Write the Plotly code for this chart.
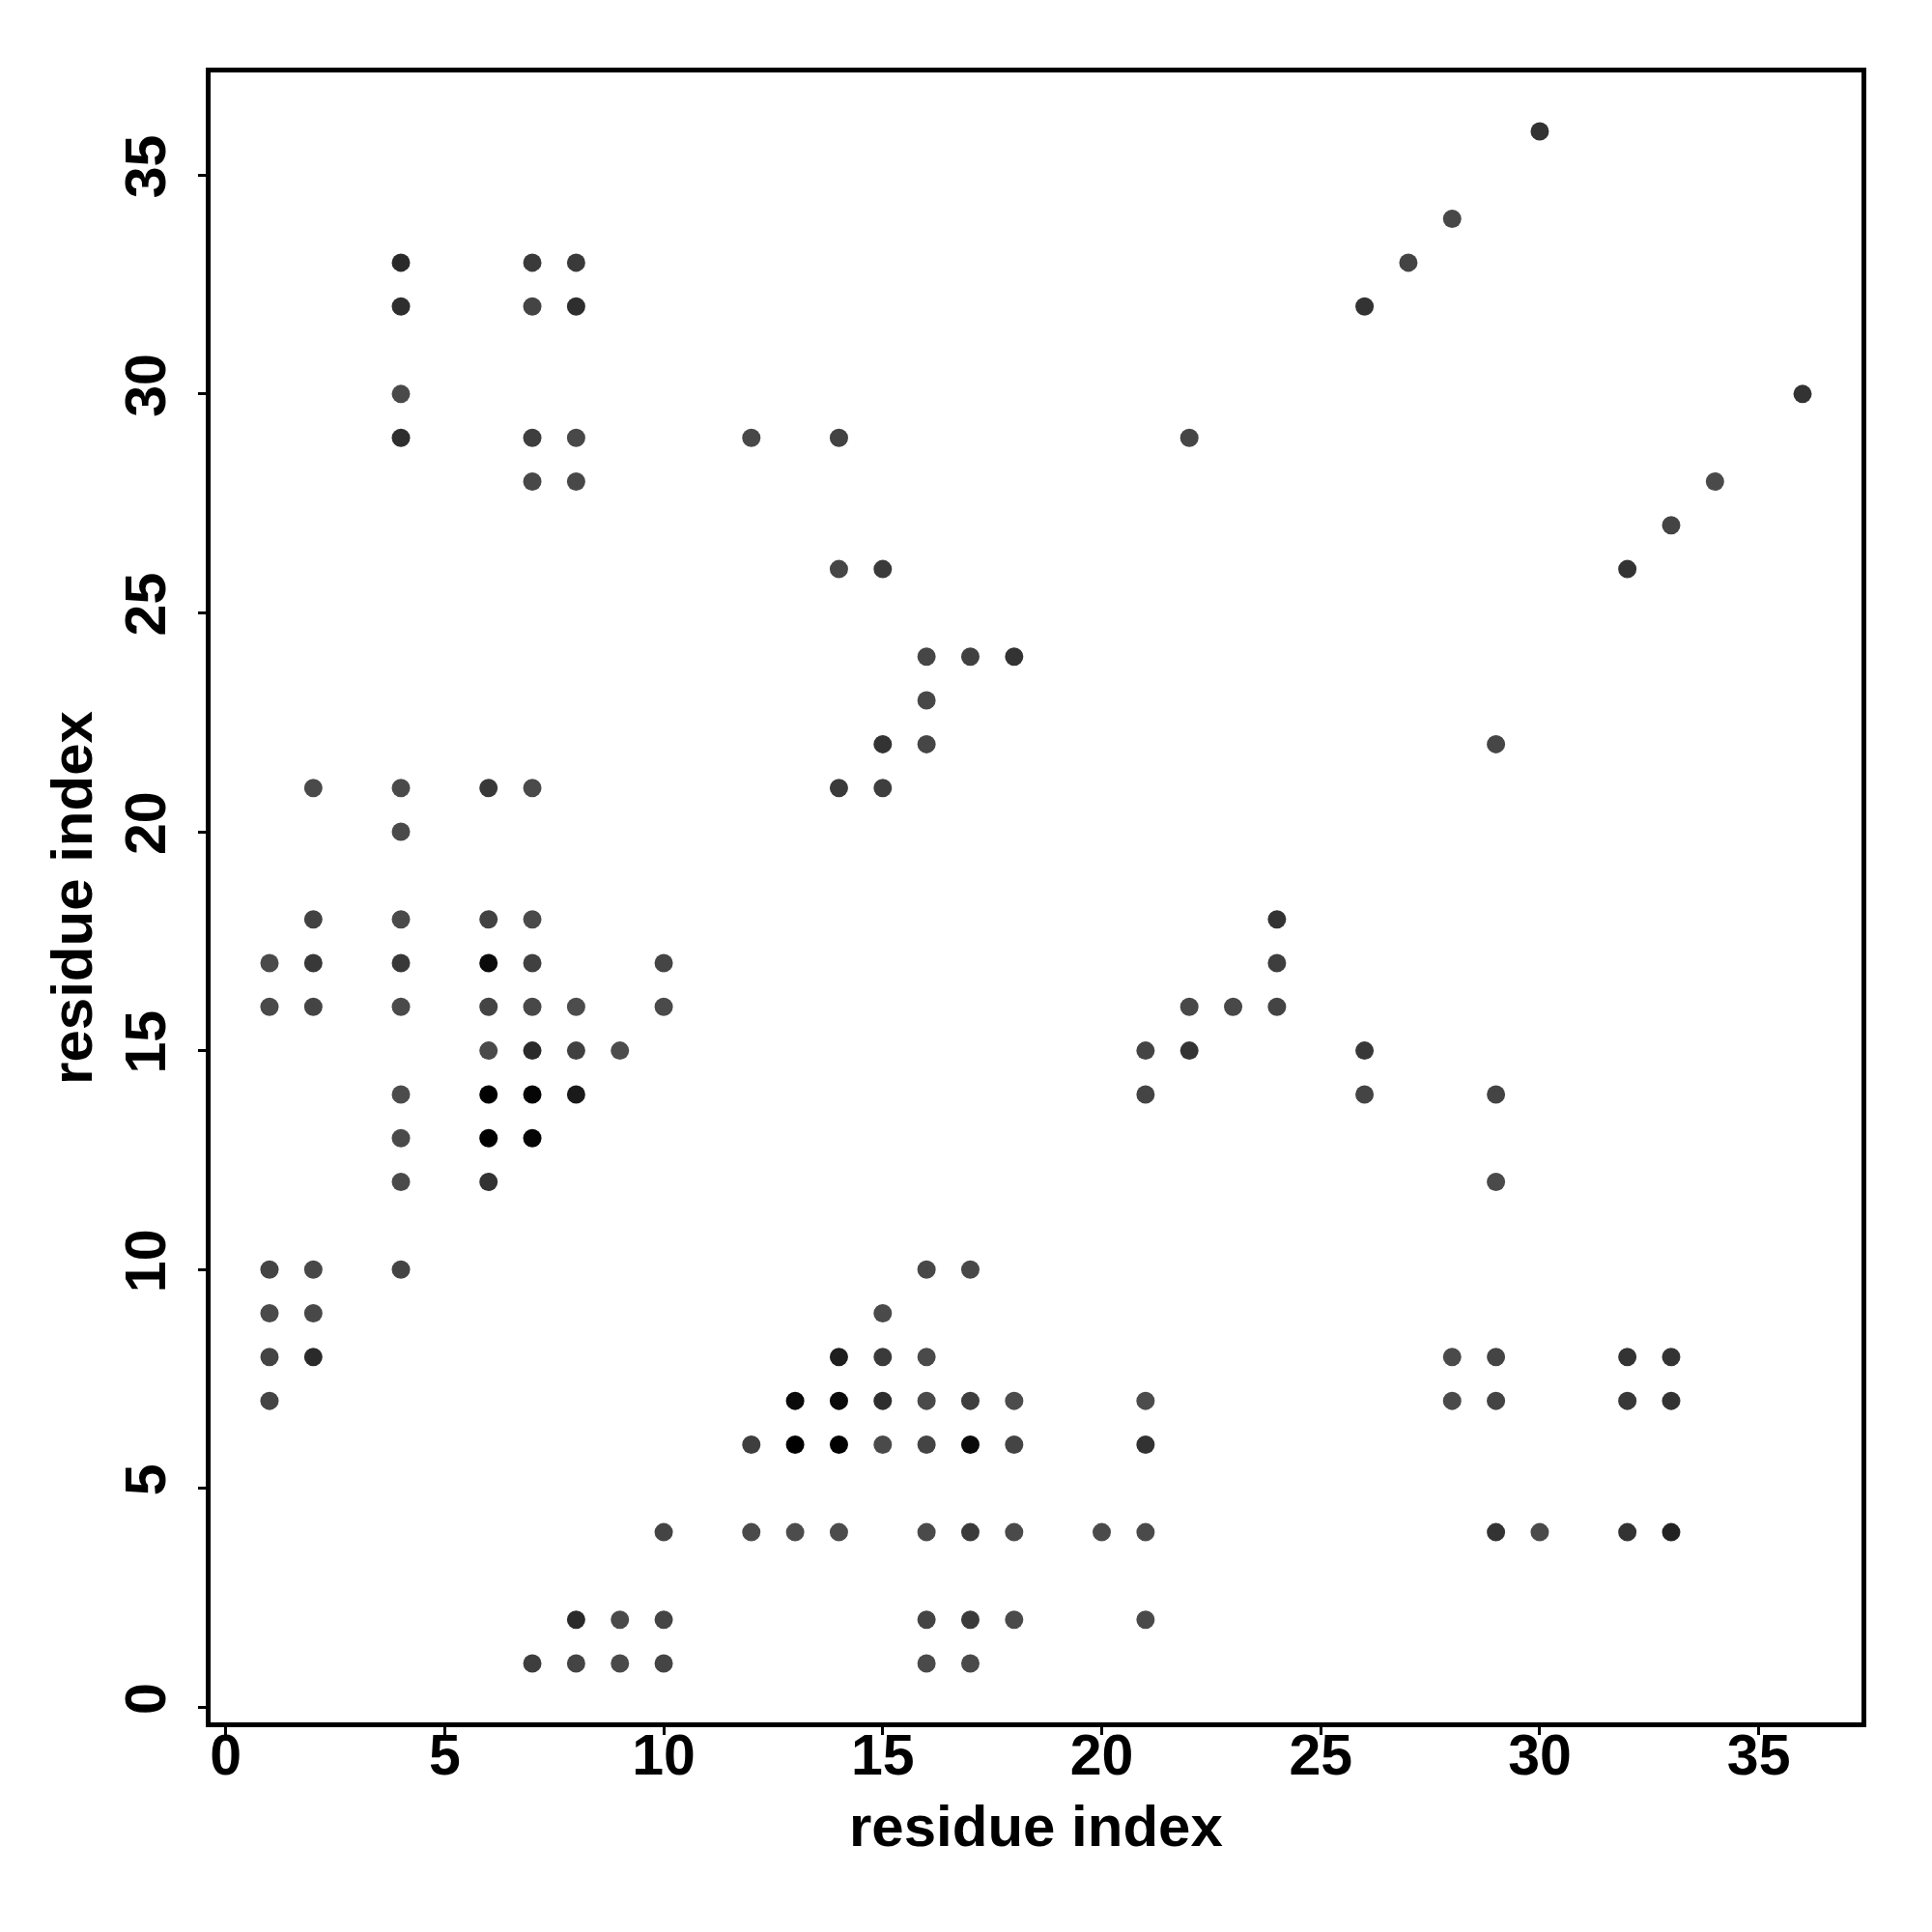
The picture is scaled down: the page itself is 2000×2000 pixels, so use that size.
import plotly.graph_objects as go

# residue contact pairs (x residue, y residue) and contact shade (gray level, 0 = black)
res_x = [4, 4, 4, 4, 7, 7, 7, 7, 8, 8, 8, 8,
         12, 14, 22, 14, 15, 16, 17, 18, 16, 15, 16, 14, 15, 29,
         30, 28, 27, 26, 36, 34, 33, 32,
         2, 4, 6, 7, 4, 2, 4, 6, 7,
         1, 2, 4, 6, 7, 10,
         1, 2, 4, 6, 7, 8, 10,
         6, 7, 8, 9, 4, 6, 7, 8, 4, 6, 7, 4, 6,
         24, 24, 22, 23, 24, 21, 22, 26, 21, 26, 29, 29,
         1, 2, 4, 1, 2, 1, 2, 1, 10, 8, 9, 10, 7, 8, 9, 10,
         16, 17, 15, 14, 15, 16,
         13, 14, 15, 16, 17, 18, 21,
         12, 13, 14, 15, 16, 17, 18, 21,
         12, 13, 14, 16, 17, 18, 20, 21,
         16, 17, 18, 21, 16, 17,
         28, 29, 32, 33, 28, 29, 32, 33, 29, 30, 32, 33]
res_y = [33, 32, 30, 29, 33, 32, 29, 28, 33, 32, 29, 28,
         29, 29, 29, 26, 26, 24, 24, 24, 23, 22, 22, 21, 21, 22,
         36, 34, 33, 32, 30, 28, 27, 26,
         21, 21, 21, 21, 20, 18, 18, 18, 18,
         17, 17, 17, 17, 17, 17,
         16, 16, 16, 16, 16, 16, 16,
         15, 15, 15, 15, 14, 14, 14, 14, 13, 13, 13, 12, 12,
         18, 17, 16, 16, 16, 15, 15, 15, 14, 14, 14, 12,
         10, 10, 10, 9, 9, 8, 8, 7, 4, 2, 2, 2, 1, 1, 1, 1,
         10, 10, 9, 8, 8, 8,
         7, 7, 7, 7, 7, 7, 7,
         6, 6, 6, 6, 6, 6, 6, 6,
         4, 4, 4, 4, 4, 4, 4, 4,
         2, 2, 2, 2, 1, 1,
         8, 8, 8, 8, 7, 7, 7, 7, 4, 4, 4, 4]
shade = [42, 46, 74, 46, 58, 68, 62, 72, 58, 46, 72, 72,
         72, 66, 70, 70, 58, 70, 64, 51, 72, 51, 70, 58, 62, 70,
         51, 72, 68, 51, 51, 74, 68, 51,
         74, 74, 56, 74, 74, 66, 74, 66, 74,
         74, 56, 56, 10, 64, 69,
         74, 68, 74, 68, 72, 76, 74,
         74, 42, 64, 76, 76, 0, 5, 26, 74, 0, 5, 74, 51,
         51, 62, 72, 72, 68, 68, 51, 56, 68, 68, 68, 74,
         68, 72, 68, 74, 72, 68, 42, 68, 68, 42, 74, 68, 62, 68, 74, 68,
         72, 72, 74, 30, 58, 74,
         10, 10, 46, 74, 62, 76, 76,
         62, 0, 0, 74, 68, 10, 68, 50,
         74, 76, 76, 74, 58, 74, 74, 74,
         68, 58, 74, 74, 74, 74,
         74, 68, 51, 51, 74, 68, 56, 51, 51, 74, 51, 34]

tick_vals = [0, 5, 10, 15, 20, 25, 30, 35]
axis_title = "residue index"

FONT = "Liberation Sans, Arial, Helvetica, sans-serif"

fig = go.Figure(go.Scatter(
    x=res_x, y=res_y, mode="markers",
    marker=dict(size=19, color=shade, cmin=0, cmax=255,
                colorscale=[[0, "rgb(0,0,0)"], [1, "rgb(255,255,255)"]],
                line=dict(width=0)),
    showlegend=False, hoverinfo="x+y"))

axis_common = dict(
    range=[-0.345, 37.345], tickvals=tick_vals, ticks="outside", ticklen=8,
    tickwidth=2.5, tickcolor="black", showline=True, linewidth=5,
    linecolor="black", mirror=True, showgrid=False, zeroline=False,
    automargin=False,
    tickfont=dict(family=FONT, size=59, color="black", weight="bold"),
)

fig.update_layout(
    width=2000, height=2000,
    margin=dict(l=210, r=81, t=67, b=225, autoexpand=False),
    plot_bgcolor="white", paper_bgcolor="white",
    xaxis=dict(**axis_common, ticklabelstandoff=-30),
    yaxis=dict(**axis_common, tickangle=-90, ticklabelstandoff=10),
    annotations=[
        dict(text=axis_title, xref="paper", yref="paper", x=0.5, y=-0.0628,
             xanchor="center", yanchor="middle", showarrow=False,
             font=dict(family=FONT, size=60, color="black", weight="bold")),
        dict(text=axis_title, xref="paper", yref="paper", x=-0.0843, y=0.5,
             xanchor="center", yanchor="middle", textangle=-90, showarrow=False,
             font=dict(family=FONT, size=60, color="black", weight="bold")),
    ],
)

fig.write_html("out.html")
